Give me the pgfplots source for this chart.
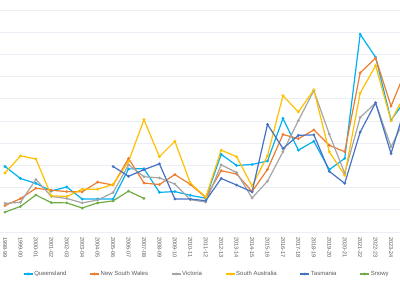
\documentclass[border=0pt]{standalone}
\usepackage{pgfplots}
\usepackage{pgfplotstable}
\pgfplotsset{compat=1.18}
\usepackage{fontspec}
\setmainfont{Liberation Sans}

\definecolor{qld}{HTML}{00B0F0}
\definecolor{nsw}{HTML}{ED7D31}
\definecolor{vic}{HTML}{A5A5A5}
\definecolor{sa}{HTML}{FFC000}
\definecolor{tas}{HTML}{4472C4}
\definecolor{snowy}{HTML}{70AD47}
\definecolor{gridc}{RGB}{234,238,245}
\definecolor{txt}{HTML}{595959}

% average price by region, financial year index 0 = 1998-99
\pgfplotstableread{
i   qld    nsw    vic    sa     tas    snowy
0   59.0   23.8   25.8   53.1   nan    17.9
1   48.2   30.0   26.7   68.5   nan    23.0
2   43.8   39.4   47.3   65.8   nan    33.3
3   37.0   37.6   32.0   32.6   nan    26.4
4   40.5   36.4   30.2   32.0   nan    26.2
5   29.7   36.1   26.2   38.5   nan    21.6
6   29.7   44.9   28.8   38.5   nan    26.2
7   29.7   42.3   35.5   42.9   59.0   28.0
8   56.8   66.3   60.5   63.4   50.2   36.8
9   57.0   44.1   49.8   101.1  56.1   30.2
10  35.7   42.7   48.7   67.8   61.4   nan
11  36.4   51.7   43.2   81.7   29.7   nan
12  33.0   42.9   29.1   44.1   29.7   nan
13  30.4   31.1   27.0   31.3   28.2   nan
14  69.9   55.2   60.5   73.7   48.2   nan
15  59.9   52.2   53.5   67.8   42.3   nan
16  60.8   36.4   30.6   41.4   36.1   nan
17  63.9   56.4   45.8   68.7   96.9   nan
18  102.2  87.8   72.2   122.7  75.2   nan
19  73.7   84.0   100.4  108.1  87.0   nan
20  81.7   91.9   127.3  128.0  87.5   nan
21  56.1   78.1   88.1   72.2   54.6   nan
22  66.3   72.2   52.9   51.1   43.8   nan
23  178.0  143.3  103.1  125.1  89.9   nan
24  157.4  156.6  116.3  149.8  116.3  nan
25  100.7  113.4  76.7   100.2  70.7   nan
26  120.1  147.1  104.8  126.0  116.3  nan
}\prices

\begin{document}
\begin{tikzpicture}
\begin{axis}[
    scale only axis,
    width=400bp, height=227bp,
    xmin=-0.324, xmax=25.58,
    ymin=0, ymax=204.4,
    axis line style={draw=none},
    xtick={0,...,25},
    xticklabels={1998-99,1999-00,2000-01,2001-02,2002-03,2003-04,2004-05,2005-06,2006-07,2007-08,2008-09,2009-10,2010-11,2011-12,2012-13,2013-14,2014-15,2015-16,2016-17,2017-18,2018-19,2019-20,2020-21,2021-22,2022-23,2023-24},
    xticklabel style={rotate=-90, anchor=west, font=\fontsize{5.6}{6.5}\selectfont, text=txt, inner sep=1bp},
    xticklabel shift=4bp,
    major tick length=0pt,
    ytick={0,20,...,200},
    yticklabels={},
    ymajorgrids,
    grid style={gridc, line width=0.7bp},
    unbounded coords=jump,
    every axis plot/.append style={line width=1.2bp, mark=*, mark size=0.7bp},
    legend columns=6,
    legend style={at={(0.516,-0.185)}, anchor=center, draw=none, fill=none,
        font=\fontsize{6}{7}\selectfont, text=txt,
        nodes={inner sep=1bp},
        /tikz/every even column/.append style={column sep=22bp}},
    legend image code/.code={\draw[mark repeat=2, mark phase=2, #1] plot coordinates {(0bp,0bp) (4.5bp,0bp) (9bp,0bp)};},
]
\addplot[qld] table[x=i, y=qld] {\prices};
\addlegendentry{Queensland}
\addplot[nsw] table[x=i, y=nsw] {\prices};
\addlegendentry{New South Wales}
\addplot[vic] table[x=i, y=vic] {\prices};
\addlegendentry{Victoria}
\addplot[sa] table[x=i, y=sa] {\prices};
\addlegendentry{South Australia}
\addplot[tas] table[x=i, y=tas] {\prices};
\addlegendentry{Tasmania}
\addplot[snowy] table[x=i, y=snowy] {\prices};
\addlegendentry{Snowy}
\coordinate (tl) at (rel axis cs:0,1);
\coordinate (br) at (rel axis cs:1,0);
\end{axis}
\pgfresetboundingbox
\path ([yshift=5bp]tl) rectangle ([yshift=-51bp]br);
\end{tikzpicture}
\end{document}
